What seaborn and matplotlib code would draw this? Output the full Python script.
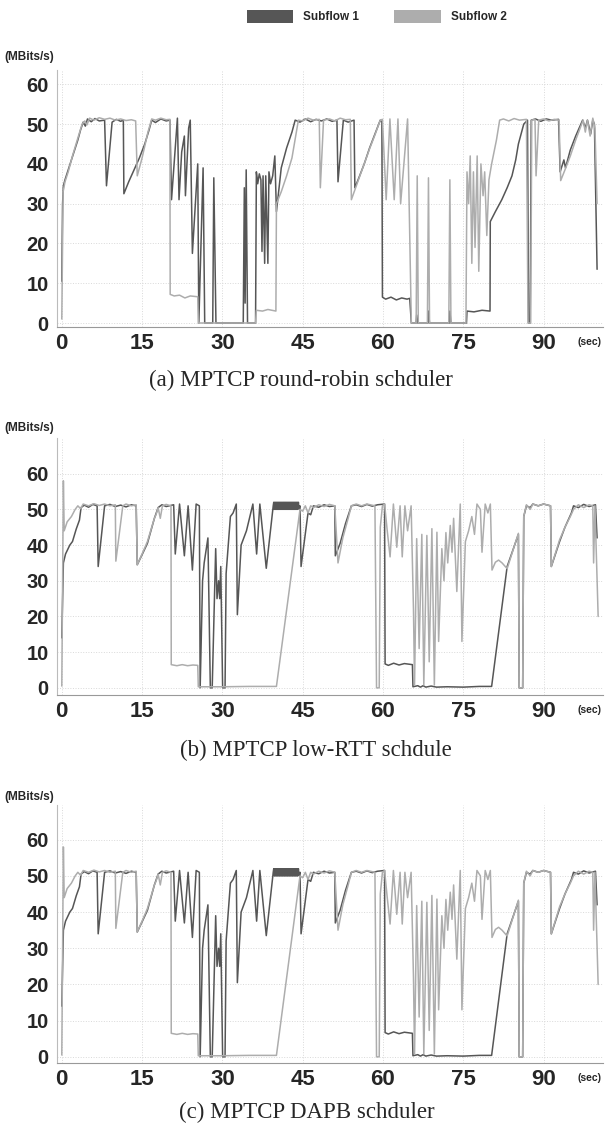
import pandas as pd
import matplotlib
matplotlib.use('Agg')
import matplotlib.pyplot as plt
from matplotlib.patches import Patch
from matplotlib.ticker import MultipleLocator
import seaborn as sns

series_names = ['Subflow 1', 'Subflow 2']
series_colors = ['#565656', '#adadad']
captions = ['(a) MPTCP round-robin schduler',
            '(b) MPTCP low-RTT schdule',
            '(c) MPTCP DAPB schduler']
x_ticks = [0, 15, 30, 45, 60, 75, 90]
y_ticks = [0, 10, 20, 30, 40, 50, 60]

# (sec, MBits/s)
a_sub1 = [(0.0, 10.5), (0.15, 30), (0.3, 34.5), (0.6, 36), (1.2, 38.5), (1.8, 41), (2.4, 43.5), (3.0, 46),
          (3.5, 48.5), (4.0, 50.5), (4.4, 49.5), (4.8, 51.3), (5.5, 50.6), (6.2, 51.4), (7.0, 50.8), (8.0, 51.0),
          (8.35, 34.5), (9.4, 50.5), (10.2, 51.2), (11.0, 50.7), (11.5, 51.0), (11.6, 32.5), (12.5, 35.5),
          (13.5, 38.5), (14.5, 41.5), (15.5, 45), (16.3, 48.5), (16.8, 51), (17.5, 50.4), (18.5, 51.3),
          (19.5, 50.8), (20.2, 51.0), (20.5, 31), (21.6, 51.5), (21.9, 31), (22.4, 43), (22.9, 47), (23.1, 32),
          (23.7, 49), (24.0, 51), (24.4, 17.5), (25.4, 40), (25.6, 0), (26.4, 39), (26.7, 0), (28.2, 0),
          (28.4, 36.5), (28.8, 0), (33.9, 0), (34.1, 34), (34.25, 5), (34.45, 38.5), (34.7, 0), (36.2, 0),
          (36.35, 38), (36.6, 35), (36.9, 37.5), (37.2, 36), (37.4, 18), (37.6, 37), (37.9, 15), (38.1, 37),
          (38.5, 15), (38.7, 38), (39.0, 35), (39.4, 37), (39.8, 42), (40.1, 28), (41.0, 39), (42.0, 44),
          (43.0, 48), (43.6, 51), (44.5, 50.5), (45.5, 51.3), (46.5, 50.6), (47.5, 51.2), (48.5, 50.8),
          (49.5, 51.3), (50.5, 50.7), (51.4, 51.0), (51.6, 35.5), (52.6, 51), (53.5, 50.5), (54.6, 51),
          (54.75, 34), (55.5, 36.5), (56.5, 40), (57.5, 44), (58.5, 47.5), (59.5, 51), (59.8, 50.5),
          (59.9, 6.5), (60.5, 6), (61.5, 6.5), (62.5, 5.8), (63.5, 6.3), (64.5, 6), (65.0, 6.2), (65.3, 0),
          (66.2, 0), (66.3, 2), (66.5, 0), (68.4, 0), (68.5, 3), (68.7, 0), (72.4, 0), (72.5, 3), (72.7, 0),
          (75.6, 0), (75.7, 3), (77.0, 2.8), (78.5, 3.2), (80.0, 3), (80.05, 25.5), (81.0, 28), (82.2, 31),
          (83.2, 34), (84.1, 37), (84.8, 41), (85.3, 45), (86.3, 50), (87.0, 51), (87.2, 0), (87.5, 0),
          (87.7, 51), (88.5, 51.3), (89.5, 50.7), (90.5, 51.3), (91.5, 51), (92.8, 51.2), (93.1, 38),
          (93.8, 41), (94.1, 39), (95.0, 43.5), (96.0, 47), (97.3, 51), (97.8, 49), (98.2, 51), (98.8, 47.5),
          (99.2, 51), (99.5, 50), (100.0, 13.5)]

a_sub2 = [(0.0, 1), (0.25, 33), (0.6, 35.5), (1.2, 38), (2.0, 42), (3.0, 46.5), (3.8, 50), (4.3, 50.8),
          (4.7, 49.8), (5.2, 51.5), (6.0, 51), (7.0, 51.6), (8.0, 51.2), (9.0, 51.5), (10.0, 51), (11.0, 51.3),
          (12.0, 50.9), (13.0, 51.1), (13.8, 50.8), (14.1, 37), (15.0, 41.5), (16.1, 48), (16.8, 51.3),
          (17.5, 51), (18.5, 51.5), (19.5, 51.1), (20.2, 51.2), (20.25, 7.2), (21.0, 6.8), (22.0, 7),
          (23.0, 6.3), (24.0, 6.8), (25.4, 6.6), (25.5, 0), (36.2, 0), (36.35, 3.2), (37.5, 3), (38.5, 3.4),
          (40.0, 3), (40.1, 30), (41.0, 33), (42.0, 37), (43.0, 41.5), (44.2, 51), (45.0, 50.8), (46.0, 51.5),
          (47.0, 51), (48.1, 51.2), (48.3, 34), (48.9, 51), (50.0, 51.3), (51.0, 50.8), (52.0, 51.5),
          (53.0, 51.1), (53.9, 51.2), (54.1, 31), (55.5, 36.3), (56.5, 40), (57.5, 43.8), (58.5, 47.3),
          (59.5, 51), (59.9, 51.2), (60.6, 31), (61.3, 51.3), (62.1, 31), (62.8, 51.3), (63.3, 30),
          (64.6, 51.3), (65.3, 0), (66.2, 0), (66.4, 37), (66.6, 0), (68.3, 0), (68.5, 36.5), (68.7, 0),
          (72.3, 0), (72.5, 36), (72.7, 0), (75.5, 0), (75.7, 38), (76.0, 30), (76.3, 42), (76.6, 15),
          (76.9, 38), (77.2, 19), (77.6, 42), (77.9, 13), (78.3, 40), (78.7, 32), (79.0, 38), (79.4, 22),
          (79.8, 36), (80.3, 40), (81.2, 46), (81.8, 51), (82.5, 51.3), (83.5, 50.8), (84.5, 51.4), (85.5, 51),
          (86.8, 51.2), (87.1, 0), (87.6, 0), (87.8, 51), (88.4, 51.2), (88.6, 37), (89.1, 51), (90.0, 51.3),
          (91.0, 50.8), (92.0, 51.2), (92.9, 51), (93.2, 35.8), (94.0, 38.5), (95.0, 42), (96.0, 46),
          (97.4, 51), (97.8, 48), (98.2, 51), (98.7, 47), (99.2, 51.5), (99.6, 49), (100.0, 30)]

b_sub1 = [(0.0, 14), (0.3, 35), (0.7, 37.5), (1.5, 40), (2.0, 41), (2.7, 44.5), (3.3, 47), (3.6, 50.5),
          (4.2, 51.2), (5.0, 50.6), (5.8, 51.4), (6.6, 51), (6.8, 34), (8.0, 51), (9.0, 51.4), (10.0, 50.8),
          (11.0, 51.2), (12.0, 50.7), (13.0, 51.3), (13.9, 51), (14.1, 34.5), (15.0, 37.3), (16.0, 40.5),
          (17.3, 47.5), (18.0, 50.5), (18.7, 51.3), (19.5, 50.8), (20.9, 51.3), (21.2, 37.5), (22.0, 51.5),
          (22.9, 37), (23.6, 51), (24.4, 33), (25.1, 51.5), (25.7, 51), (25.85, 0), (26.3, 30), (26.6, 35),
          (27.3, 42), (27.75, 0), (28.1, 0), (28.75, 39), (29.0, 25), (29.3, 30), (29.5, 25), (29.7, 34),
          (30.05, 0), (30.5, 0), (30.7, 32), (31.0, 38), (31.5, 48), (32.0, 49), (32.6, 51.5), (32.8, 20.5),
          (33.5, 40), (34.5, 44), (35.7, 51.5), (36.4, 37.5), (37.0, 51.5), (38.2, 33.5), (39.5, 51),
          (39.6, 52), (39.7, 50), (39.8, 52), (39.9, 50), (40.0, 52), (40.1, 50), (40.2, 52), (40.3, 50),
          (40.4, 52), (40.5, 50), (40.6, 52), (40.7, 50), (40.8, 52), (40.9, 50), (41.0, 52), (41.1, 50),
          (41.2, 52), (41.3, 50), (41.4, 52), (41.5, 50), (41.6, 52), (41.7, 50), (41.8, 52), (41.9, 50),
          (42.0, 52), (42.1, 50), (42.2, 52), (42.3, 50), (42.4, 52), (42.5, 50), (42.6, 52), (42.7, 50),
          (42.8, 52), (42.9, 50), (43.0, 52), (43.1, 50), (43.2, 52), (43.3, 50), (43.4, 52), (43.5, 50),
          (43.6, 52), (43.7, 50), (43.8, 52), (43.9, 50), (44.0, 52), (44.1, 50), (44.2, 52), (44.3, 50.3),
          (44.5, 51), (44.7, 34), (46.0, 49), (46.5, 48.5), (47.0, 51), (48.0, 50.6), (49.0, 51.3),
          (50.0, 50.8), (51.0, 51), (51.1, 37), (52.0, 40.5), (53.0, 46), (54.1, 51), (55.0, 51.3),
          (56.0, 50.8), (57.0, 51.4), (58.0, 50.9), (59.0, 51.3), (60.3, 51.5), (60.4, 6.7), (61.0, 6.3),
          (62.0, 6.9), (63.0, 6.4), (64.0, 6.8), (65.5, 6.5), (65.6, 0.3), (66.5, 0.6), (67.0, 0.2),
          (67.5, 0.6), (68.0, 0.2), (69.0, 0.5), (70.0, 0.2), (72.0, 0.3), (75.0, 0.2), (78.0, 0.4),
          (80.3, 0.4), (83.2, 34), (85.3, 43), (85.45, 0), (86.1, 0), (86.3, 48), (86.8, 51), (87.5, 50.5),
          (88.0, 51.5), (89.0, 51), (90.0, 51.5), (91.3, 51), (91.45, 34), (93.0, 41), (94.0, 45), (95.2, 49),
          (95.6, 51), (96.5, 50.5), (97.5, 51.4), (98.5, 50.8), (99.7, 51.3), (100.0, 42)]

b_sub2 = [(0.0, 0.5), (0.3, 58), (0.45, 44), (1.0, 46.5), (1.8, 48), (2.5, 50), (3.0, 51), (3.5, 50.2),
          (4.0, 51.5), (5.0, 51), (6.0, 51.6), (7.0, 51.1), (8.0, 51.5), (9.0, 51), (10.0, 51.3), (10.1, 35.5),
          (11.4, 51), (12.0, 51.5), (13.0, 51), (13.9, 51.3), (14.1, 34.5), (15.0, 37.5), (16.0, 41),
          (17.3, 47.5), (17.6, 48.5), (18.0, 50.5), (18.4, 47.5), (18.8, 51), (19.5, 51.4), (20.4, 51),
          (20.45, 6.5), (21.5, 6.2), (22.5, 6.5), (23.5, 6.2), (24.5, 6.4), (25.4, 6.3), (25.5, 0.3),
          (30.0, 0.3), (35.0, 0.4), (40.1, 0.4), (44.5, 50), (45.0, 49.5), (45.5, 51), (46.0, 49), (46.5, 51),
          (47.0, 50.5), (48.0, 51.3), (49.0, 50.8), (50.0, 51.4), (51.0, 51), (51.6, 35), (52.5, 42),
          (53.5, 47.5), (54.1, 51), (55.0, 51.5), (56.0, 51), (57.0, 51.5), (58.5, 51), (58.8, 0), (59.3, 0),
          (59.5, 45), (59.9, 51), (60.3, 51.5), (60.8, 44), (61.33, 36.7), (61.95, 51.5), (62.58, 39.4),
          (63.2, 51), (63.6, 36.7), (64.1, 51), (64.6, 44), (65.26, 51), (65.7, 22), (65.9, 0.8), (66.3, 41.8),
          (66.76, 11), (67.26, 43), (67.63, 0.8), (68.2, 42.7), (68.64, 7.3), (69.14, 44.6), (69.6, 0.8),
          (70.08, 43.6), (70.4, 13), (71.0, 39), (71.4, 30), (71.76, 43.5), (72.1, 35), (72.57, 45.5),
          (72.9, 38), (73.2, 47.5), (73.8, 27), (74.44, 51.5), (74.75, 13), (75.4, 41), (76.0, 44), (76.6, 48),
          (77.1, 43), (77.56, 51.5), (78.2, 50), (78.5, 38), (79.1, 51.5), (79.6, 49), (80.06, 51.5),
          (80.37, 33), (81.0, 35.2), (81.6, 35.8), (82.25, 35), (83.2, 33.4), (85.3, 43.3), (85.45, 0),
          (86.1, 0), (86.3, 48), (86.8, 51.3), (87.5, 50), (88.0, 51.5), (89.0, 51), (90.0, 51.5), (91.3, 51),
          (91.45, 34), (93.0, 41.5), (94.0, 45), (95.0, 48), (95.6, 50), (96.5, 51.3), (97.5, 50.5),
          (98.5, 51.3), (99.2, 51), (99.35, 35), (99.6, 51), (100.2, 20)]

# panel (c) shows the same traces as panel (b)
c_sub1 = b_sub1
c_sub2 = b_sub2


def frame(sub1, sub2):
    rows = []
    for name, pts in zip(series_names, (sub1, sub2)):
        for t, v in pts:
            rows.append((name, t, v))
    return pd.DataFrame(rows, columns=['flow', 'sec', 'mbps'])


sns.set_style('white')
plt.rcParams['font.family'] = ['Liberation Sans', 'DejaVu Sans']

fig = plt.figure(figsize=(6.06, 11.33), dpi=100)

panels = [(a_sub1, a_sub2), (b_sub1, b_sub2), (c_sub1, c_sub2)]
boxes = [(0.094, 0.7114, 0.901, 0.2268),
         (0.094, 0.3866, 0.901, 0.2268),
         (0.094, 0.0618, 0.901, 0.2277)]
ylims = [(-1, 63.6), (-2, 70), (-1.7, 69.6)]
unit_y = [0.9497, 0.6222, 0.2966]
cap_pos = [(0.497, 0.6646), (0.521, 0.3372), (0.507, 0.0177)]

for i, (s1, s2) in enumerate(panels):
    ax = fig.add_axes(boxes[i])
    df = frame(s1, s2)
    sns.lineplot(data=df, x='sec', y='mbps', hue='flow', hue_order=series_names,
                 palette=series_colors, estimator=None, sort=False, lw=1.1,
                 legend=False, ax=ax)
    ax.set_xlim(-0.9, 101.1)
    ax.set_ylim(*ylims[i])
    ax.set_xticks(x_ticks)
    ax.set_yticks(y_ticks)
    ax.xaxis.set_minor_locator(MultipleLocator(5))
    ax.yaxis.set_minor_locator(MultipleLocator(2))
    ax.grid(True, which='major', ls=':', lw=0.7, color='#d9d9d9')
    ax.set_xlabel('')
    ax.set_ylabel('')
    for s in ['top', 'right']:
        ax.spines[s].set_visible(False)
    ax.spines['left'].set_color('#bbbbbb')
    ax.spines['bottom'].set_color('#999999')
    ax.tick_params(which='both', direction='in', color='#999999', length=3, width=0.6)
    ax.tick_params(axis='x', labelsize=16, pad=4)
    ax.tick_params(axis='y', labelsize=14.5, pad=6)
    for lab in ax.get_xticklabels() + ax.get_yticklabels():
        lab.set_fontweight('bold')
    ax.text(0.975, -0.06, '(sec)', transform=ax.transAxes, ha='center', va='center',
            fontsize=7.5, fontweight='bold')
    fig.text(0.008, unit_y[i], '(MBits/s)', ha='left', va='center', fontsize=8.5, fontweight='bold')
    fig.text(cap_pos[i][0], cap_pos[i][1], captions[i], ha='center', va='center',
             fontsize=16.5, family=['Liberation Serif', 'DejaVu Serif'])

handles = [Patch(facecolor=c, edgecolor='none', label=n) for n, c in zip(series_names, series_colors)]
fig.legend(handles=handles, loc='upper left', bbox_to_anchor=(0.4076, 0.9912), ncol=2, frameon=False,
           prop={'weight': 'bold', 'size': 8.5}, handlelength=3.9, handleheight=1.3,
           handletextpad=0.85, columnspacing=3.0, borderpad=0, borderaxespad=0)

fig.savefig('out.png', dpi=100)
